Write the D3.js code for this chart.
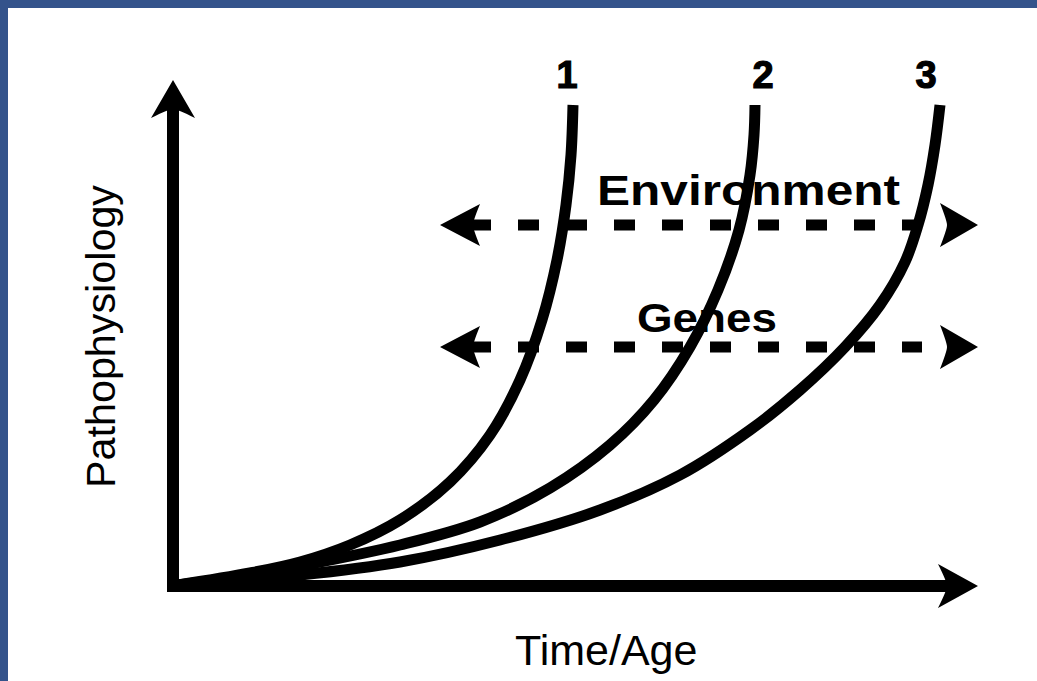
<!DOCTYPE html>
<html>
<head>
<meta charset="utf-8">
<script src="https://cdn.jsdelivr.net/npm/d3@7"></script>
<style>
  html, body { margin: 0; padding: 0; background: #fff; }
  svg { display: block; }
</style>
</head>
<body>
<div id="chart"></div>
<script>
// curves (x = time from origin, y = height above the time axis)
let curve1 = [[0,0],[72,12],[122,23],[172,40],[222,65],[272,103],[312,150],[342,205],[364,265],[379,325],[388,380],[393,430],[395,480]];
let curve2 = [[0,0],[72,10],[122,19],[222,40],[302,63],[372,97],[432,140],[476,185],[512,238],[540,295],[561,355],[572,410],[576,450],[577,480]];
let curve3 = [[0,0],[122,10],[222,23],[322,45],[422,75],[502,110],[572,155],[622,195],[667,238],[702,280],[727,323],[740,360],[750,400],[757,440],[762,480]];
let curves = [curve1, curve2, curve3];
let curveLabels = ["1", "2", "3"];

let factorLabels = ["Environment", "Genes"];
let factorLevels = [360, 238];      // height of each dashed double arrow
let factorSpan = [262, 800];        // arrow tips, left and right

let xTitle = "Time/Age";
let yTitle = "Pathophysiology";

let width = 1037, height = 681;

let svg = d3.select("#chart").append("svg")
    .attr("width", width)
    .attr("height", height);

svg.append("rect").attr("width", width).attr("height", height).style("fill", "#ffffff");
// blue frame, top and left
svg.append("rect").attr("x", 0).attr("y", 0).attr("width", width).attr("height", 8).style("fill", "#34538b");
svg.append("rect").attr("x", 0).attr("y", 0).attr("width", 8).attr("height", height).style("fill", "#34538b");

let x = d3.scaleLinear().domain([0, 800]).range([178, 978]);
let y = d3.scaleLinear().domain([0, 500]).range([585, 85]);

let line = d3.line()
    .x(function (d) { return x(d[0]) })
    .y(function (d) { return y(d[1]) })
    .curve(d3.curveCatmullRom.alpha(0.5));

// curves
svg.selectAll()
    .data(curves)
    .enter()
    .append("path")
    .attr("d", function (d) { return line(d) })
    .style("fill", "none")
    .style("stroke", "#000")
    .style("stroke-width", 11)
    .style("stroke-linecap", "butt");

// axes with arrow heads
let x0 = x(-5), y0 = y(0);
svg.append("line")
    .attr("x1", x0).attr("y1", y0 + 1).attr("x2", x(770)).attr("y2", y0 + 1)
    .style("stroke", "#000").style("stroke-width", 12);
svg.append("line")
    .attr("x1", x0).attr("y1", y0 + 7).attr("x2", x0).attr("y2", y(480))
    .style("stroke", "#000").style("stroke-width", 12);

function head(tx, ty, dir, len, half, notch) {
    // dir: 1 right, -1 left, 0 up
    if (dir === 0) {
        return "M" + tx + "," + ty +
            "L" + (tx + half) + "," + (ty + len) +
            "Q" + (tx + 4) + "," + (ty + len - notch) + " " + tx + "," + (ty + len - notch) +
            "Q" + (tx - 4) + "," + (ty + len - notch) + " " + (tx - half) + "," + (ty + len) + "Z";
    }
    let bx = tx - dir * len;
    return "M" + tx + "," + ty +
        "L" + bx + "," + (ty - half) +
        "Q" + (bx + dir * notch) + "," + (ty - 4) + " " + (bx + dir * notch) + "," + ty +
        "Q" + (bx + dir * notch) + "," + (ty + 4) + " " + bx + "," + (ty + half) + "Z";
}

svg.append("path").attr("d", head(x(800), y0 + 1, 1, 40, 22, 9)).style("fill", "#000");
svg.append("path").attr("d", head(x0, y(505), 0, 38, 22, 9)).style("fill", "#000");

// dashed double arrows
factorLevels.forEach(function (lv, i) {
    let yy = y(lv);
    let xl = x(factorSpan[0]), xr = x(factorSpan[1]);
    svg.append("line")
        .attr("x1", xl + 30).attr("y1", yy).attr("x2", xr - 56).attr("y2", yy)
        .style("stroke", "#000").style("stroke-width", 11)
        .style("stroke-dasharray", "21,27");
    svg.append("path").attr("d", head(xl, yy, -1, 40, 21, 7)).style("fill", "#000");
    svg.append("path").attr("d", head(xr, yy, 1, 38, 22, 7)).style("fill", "#000");
});

// labels
svg.selectAll()
    .data(curveLabels)
    .enter()
    .append("text")
    .attr("x", function (d, i) { return x(curves[i][curves[i].length - 1][0]) + [-6, 8, -14][i] })
    .attr("y", 88)
    .attr("text-anchor", "middle")
    .style("font-family", "Liberation Sans, Arial, sans-serif")
    .style("font-weight", "bold")
    .style("font-size", "38px")
    .style("stroke", "#000").style("stroke-width", 1.2)
    .text(function (d) { return d });

svg.append("text")
    .attr("x", 597).attr("y", 205)
    .attr("textLength", 303).attr("lengthAdjust", "spacingAndGlyphs")
    .style("font-family", "Liberation Sans, Arial, sans-serif")
    .style("font-weight", "bold").style("font-size", "43px")
    .text(factorLabels[0]);

svg.append("text")
    .attr("x", 637).attr("y", 332)
    .attr("textLength", 140).attr("lengthAdjust", "spacingAndGlyphs")
    .style("font-family", "Liberation Sans, Arial, sans-serif")
    .style("font-weight", "bold").style("font-size", "40px")
    .text(factorLabels[1]);

svg.append("text")
    .attr("x", 515).attr("y", 665)
    .style("font-family", "Liberation Sans, Arial, sans-serif")
    .style("font-size", "43px")
    .text(xTitle);

svg.append("text")
    .attr("transform", "translate(115,488) rotate(-90)")
    .attr("textLength", 303).attr("lengthAdjust", "spacingAndGlyphs")
    .style("font-family", "Liberation Sans, Arial, sans-serif")
    .style("font-size", "40px")
    .text(yTitle);
</script>
</body>
</html>
